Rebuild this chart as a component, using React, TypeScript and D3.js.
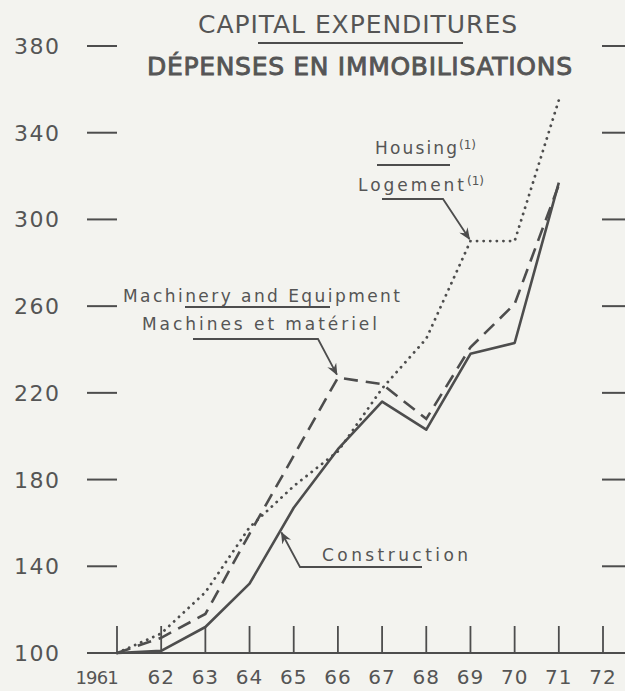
import React from "react";
import * as d3 from "d3";

const years = [1961, 1962, 1963, 1964, 1965, 1966, 1967, 1968, 1969, 1970, 1971];
const construction = [100, 101, 112, 132, 167, 194, 216, 203, 238, 243, 317];
const machinery = [100, 107, 118, 155, 191, 227, 224, 208, 241, 261, 316];
const housing = [100, 109, 128, 158, 177, 193, 222, 245, 290, 290, 355];

const yTicks = [100, 140, 180, 220, 260, 300, 340, 380];
const xTickYears = [1961, 1962, 1963, 1964, 1965, 1966, 1967, 1968, 1969, 1970, 1971, 1972];
const xTickLabels = ["1961", "62", "63", "64", "65", "66", "67", "68", "69", "70", "71", "72"];

const W = 625;
const H = 691;
const ink = "#4d4d4d";
const textInk = "#555";
const labelFont = "'DejaVu Sans', sans-serif";

export default function App() {
  const x = d3.scaleLinear().domain([1961, 1972]).range([117, 603]);
  const y = d3.scaleLinear().domain([100, 380]).range([653, 46]);

  const line = d3
    .line<number>()
    .x((_, i) => x(years[i]))
    .y((d) => y(d));

  // arrow targets, taken from the series themselves
  const machTip: [number, number] = [x(1966), y(machinery[5])];
  const houseTip: [number, number] = [x(1969), y(housing[8])];
  const consTip = d3.interpolate(
    [x(1964), y(construction[3])],
    [x(1965), y(construction[4])]
  )(0.7) as unknown as [number, number];

  return (
    <svg
      width={W}
      height={H}
      style={{ position: "absolute", left: 0, top: 0, background: "#f3f3ef" }}
    >
      <defs>
        <marker
          id="arrow"
          viewBox="0 0 12 10"
          refX="11"
          refY="5"
          markerWidth="12"
          markerHeight="10"
          markerUnits="userSpaceOnUse"
          orient="auto"
        >
          <path d="M0,0 L12,5 L0,10 L4,5 Z" fill={ink} />
        </marker>
      </defs>

      {/* titles */}
      <text
        x={198}
        y={33}
        fontFamily="'Liberation Sans Narrow', 'DejaVu Sans', sans-serif"
        fontSize={25}
        fill={textInk}
        textLength={319}
        lengthAdjust="spacing"
      >
        CAPITAL EXPENDITURES
      </text>
      <line x1={258} x2={463} y1={43} y2={43} stroke={ink} strokeWidth={2} />
      <text
        x={147}
        y={75}
        fontFamily="'Liberation Sans Narrow', 'DejaVu Sans', sans-serif"
        fontSize={25}
        fill={textInk}
        stroke={textInk}
        strokeWidth={0.9}
        textLength={425}
        lengthAdjust="spacing"
      >
        DÉPENSES EN IMMOBILISATIONS
      </text>

      {/* y axis ticks and labels */}
      {yTicks.map((t) => (
        <g key={t}>
          <text
            x={14}
            y={y(t) + 8}
            fontFamily={labelFont}
            fontSize={22}
            letterSpacing={1.5}
            fill={textInk}
          >
            {t}
          </text>
          {t !== 100 && (
            <>
              <line x1={87} x2={117} y1={y(t)} y2={y(t)} stroke={ink} strokeWidth={2} />
              <line x1={602} x2={625} y1={y(t)} y2={y(t)} stroke={ink} strokeWidth={2} />
            </>
          )}
        </g>
      ))}

      {/* x axis */}
      <line x1={87} x2={625} y1={y(100)} y2={y(100)} stroke={ink} strokeWidth={2.2} />
      {xTickYears.map((yr, i) => (
        <g key={yr}>
          <line x1={x(yr)} x2={x(yr)} y1={y(100)} y2={y(100) - 27} stroke={ink} strokeWidth={1.8} />
          <text
            x={i === 0 ? x(yr) + 1 : x(yr)}
            y={684}
            textAnchor={i === 0 ? "end" : "middle"}
            fontFamily={labelFont}
            fontSize={i === 0 ? 18 : 20}
            letterSpacing={i === 0 ? -0.8 : 1}
            fill={textInk}
          >
            {xTickLabels[i]}
          </text>
        </g>
      ))}

      {/* series */}
      <path
        d={line(housing) ?? ""}
        fill="none"
        stroke={ink}
        strokeWidth={2.8}
        strokeLinecap="round"
        strokeDasharray="0.1 6.5"
      />
      <path
        d={line(machinery) ?? ""}
        fill="none"
        stroke={ink}
        strokeWidth={2.6}
        strokeDasharray="14 8"
      />
      <path d={line(construction) ?? ""} fill="none" stroke={ink} strokeWidth={2.6} strokeLinejoin="round" />

      {/* annotations */}
      <g fontFamily="'DejaVu Sans', sans-serif" fontSize={17} fill={textInk}>
        <text x={123} y={302} textLength={277} lengthAdjust="spacing">
          Machinery and Equipment
        </text>
        <text x={142} y={330} textLength={235} lengthAdjust="spacing">
          Machines et matériel
        </text>
        <text x={375} y={154} textLength={82} lengthAdjust="spacing">
          Housing
        </text>
        <text x={459} y={149} fontSize={12}>
          (1)
        </text>
        <text x={358} y={191} textLength={106} lengthAdjust="spacing">
          Logement
        </text>
        <text x={467} y={185} fontSize={12}>
          (1)
        </text>
        <text x={322} y={561} textLength={146} lengthAdjust="spacing">
          Construction
        </text>
      </g>

      <line x1={185} x2={330} y1={307} y2={307} stroke={ink} strokeWidth={1.8} />
      <path
        d={`M193,339 L318,339 L${machTip[0] - 1},${machTip[1] - 3}`}
        fill="none"
        stroke={ink}
        strokeWidth={1.8}
        markerEnd="url(#arrow)"
      />

      <line x1={377} x2={450} y1={165} y2={165} stroke={ink} strokeWidth={1.8} />
      <path
        d={`M382,199 L443,199 L${houseTip[0] - 1},${houseTip[1] - 2}`}
        fill="none"
        stroke={ink}
        strokeWidth={1.8}
        markerEnd="url(#arrow)"
      />

      <path
        d={`M422,567 L300,567 L${consTip[0] + 1},${consTip[1] + 2}`}
        fill="none"
        stroke={ink}
        strokeWidth={1.8}
        markerEnd="url(#arrow)"
      />
    </svg>
  );
}
